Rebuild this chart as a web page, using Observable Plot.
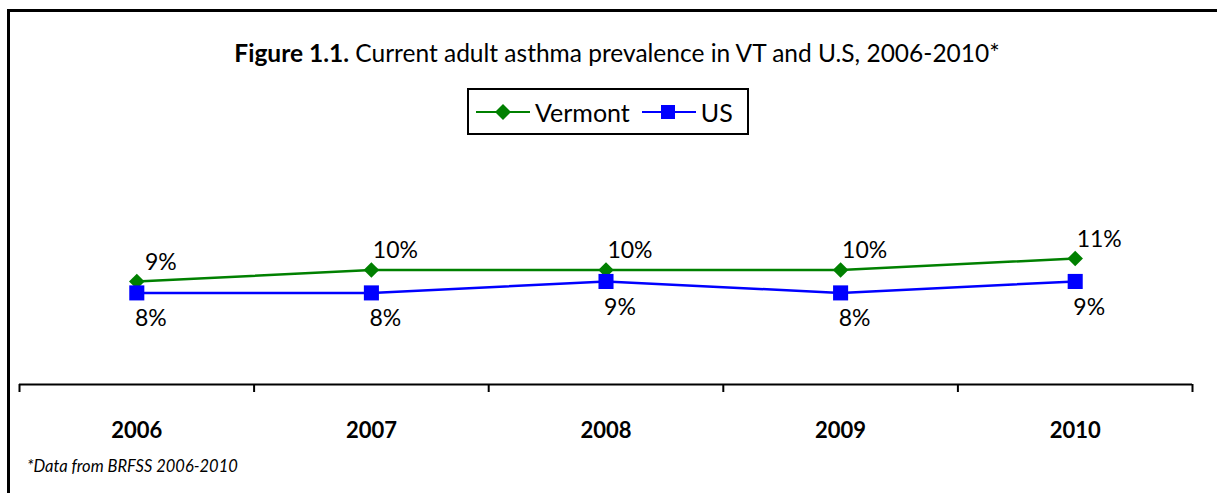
<!DOCTYPE html>
<html>
<head>
<meta charset="utf-8">
<script src="https://cdn.jsdelivr.net/npm/d3@7"></script>
<script src="https://cdn.jsdelivr.net/npm/@observablehq/plot@0.6"></script>
<style>
  html, body { margin: 0; padding: 0; background: #fff; width: 1217px; height: 493px; overflow: hidden; font-family: Lato, "Open Sans", sans-serif; color: #000; }
  #frame { position: absolute; left: 7px; top: 9px; width: 1300px; height: 600px; border-top: 3px solid #000; border-left: 3px solid #000; }
  #title { position: absolute; left: 0; width: 1234px; top: 38px; text-align: center; font-size: 24.5px; white-space: nowrap; }
  #legend { position: absolute; left: 467px; top: 88px; width: 278px; height: 43px; border: 2px solid #000; box-sizing: content-box; font-size: 25px; display: flex; align-items: center; }
  #legend .item { display: flex; align-items: center; }
  #footnote { position: absolute; left: 27px; top: 456px; font-style: italic; font-size: 16.5px; white-space: nowrap; }
  #chart { position: absolute; left: 0; top: 0; }
</style>
</head>
<body>
<div id="chart"></div>
<div id="frame"></div>
<div id="title"><b>Figure 1.1.</b> Current adult asthma prevalence in VT and U.S, 2006-2010*</div>
<div id="legend"></div>
<div id="footnote">*Data from BRFSS 2006-2010</div>
<script>
const years = [2006, 2007, 2008, 2009, 2010];
const vermont = [9, 10, 10, 10, 11];
const us = [8, 8, 9, 8, 9];
const seriesNames = ["Vermont", "US"];
const seriesColors = ["#008000", "#0000ff"];

const data = [
  ...years.map((year, i) => ({year, value: vermont[i], series: seriesNames[0]})),
  ...years.map((year, i) => ({year, value: us[i], series: seriesNames[1]}))
];
const vt = data.filter(d => d.series === "Vermont");
const usd = data.filter(d => d.series === "US");
const boundaries = [...years.map(y => y - 0.5), years[years.length - 1] + 0.5];

const chart = Plot.plot({
  width: 1217,
  height: 493,
  marginLeft: 19,
  marginRight: 25,
  marginTop: 155,
  marginBottom: 109,
  style: {background: "transparent", fontFamily: "Lato, sans-serif"},
  x: {domain: [years[0] - 0.5, years[years.length - 1] + 0.5], label: null},
  y: {domain: [0, 20], axis: null},
  marks: [
    Plot.axisX({ticks: boundaries, tickSize: 8, tickFormat: () => "", strokeWidth: 2, stroke: "#000", label: null}),
    Plot.axisX({ticks: years, tickSize: 0, tickPadding: 38, tickFormat: d => String(d), fontSize: 22, fontWeight: "bold", fill: "#000", label: null}),
    Plot.ruleY([0], {stroke: "#000", strokeWidth: 2}),
    Plot.line(vt, {x: "year", y: "value", stroke: seriesColors[0], strokeWidth: 2.5}),
    Plot.line(usd, {x: "year", y: "value", stroke: seriesColors[1], strokeWidth: 2.5}),
    Plot.dot(vt, {x: "year", y: "value", symbol: "diamond2", r: 7, fill: seriesColors[0], stroke: "none"}),
    Plot.dot(usd, {x: "year", y: "value", symbol: "square", r: 8.5, fill: seriesColors[1], stroke: "none"}),
    Plot.text(vt, {x: "year", y: "value", text: d => d.value + "%", dx: 24, dy: -19, fontSize: 23, fill: "#000"}),
    Plot.text(usd, {x: "year", y: "value", text: d => d.value + "%", dx: 14, dy: 26, fontSize: 23, fill: "#000"})
  ]
});
document.getElementById("chart").appendChild(chart);

// legend
const legend = document.getElementById("legend");
seriesNames.forEach((name, i) => {
  const item = document.createElement("div");
  item.className = "item";
  const sym = i === 0
    ? `<path d="M27,-8 L35,0 L27,8 L19,0 Z" fill="${seriesColors[i]}"/>`
    : `<rect x="19" y="-7" width="14" height="14" fill="${seriesColors[i]}"/>`;
  item.innerHTML = `<svg width="56" height="20" viewBox="0 -10 56 20" style="margin-left:${i === 0 ? 7 : 12}px"><line x1="0" x2="54" y1="0" y2="0" stroke="${seriesColors[i]}" stroke-width="2"/>${sym}</svg><span style="margin-left:3px">${name}</span>`;
  legend.appendChild(item);
});
</script>
</body>
</html>
